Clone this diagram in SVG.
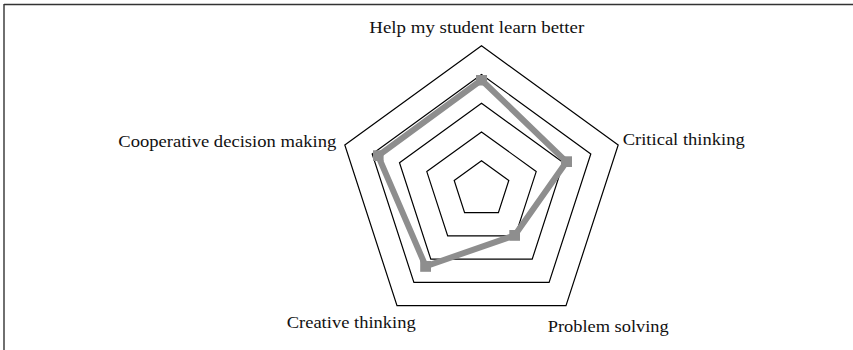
<svg xmlns="http://www.w3.org/2000/svg" width="853" height="350" viewBox="0 0 853 350">
  <style>
    .grid { fill: none; stroke: #000; stroke-width: 1.2; stroke-linejoin: miter; }
    .data { fill: none; stroke: #8e8e8e; stroke-width: 6; stroke-linejoin: miter; }
    .lbl { font-family: "Liberation Serif", "Times New Roman", serif; font-size: 17px; fill: #111; }
    .frame { stroke: #333; stroke-width: 1.4; fill: none; }
  </style>
  <defs>
    <marker id="sq" viewBox="0 0 10 10" refX="5" refY="5" markerWidth="11" markerHeight="11" markerUnits="userSpaceOnUse">
      <rect x="0" y="0" width="10" height="10" fill="#8e8e8e"/>
    </marker>
  </defs>
  <rect width="853" height="350" fill="#fff"/>
  <g id="frame">
    <line class="frame" x1="4" y1="4.5" x2="853" y2="4.5"/>
    <line class="frame" x1="4" y1="4" x2="4" y2="350"/>
  </g>
  <g id="grid">
    <polygon class="grid" points="481.5,45.7 618.2,145.0 566.0,305.7 397.0,305.7 344.8,145.0"/>
    <polygon class="grid" points="481.5,74.4 590.8,153.9 549.1,282.4 413.9,282.4 372.2,153.9"/>
    <polygon class="grid" points="481.5,103.2 563.5,162.8 532.2,259.2 430.8,259.2 399.5,162.8"/>
    <polygon class="grid" points="481.5,131.9 536.2,171.6 515.3,235.9 447.7,235.9 426.8,171.6"/>
    <polygon class="grid" points="481.5,160.7 508.8,180.5 498.4,212.6 464.6,212.6 454.2,180.5"/>
  </g>
  <g id="data">
    <polygon class="data" points="481.5,80.0 566.5,161.8 514.8,235.3 425.7,266.3 378.1,155.8" marker-start="url(#sq)" marker-mid="url(#sq)"/>
  </g>
  <g id="label-help">
    <text class="lbl" x="369.3" y="32.5" textLength="215" lengthAdjust="spacingAndGlyphs">Help my student learn better</text>
  </g>
  <g id="label-critical">
    <text class="lbl" x="622.7" y="144.5" textLength="122" lengthAdjust="spacingAndGlyphs">Critical thinking</text>
  </g>
  <g id="label-problem">
    <text class="lbl" x="547.7" y="331.7" textLength="121" lengthAdjust="spacingAndGlyphs">Problem solving</text>
  </g>
  <g id="label-creative">
    <text class="lbl" x="286.7" y="328.3" textLength="129" lengthAdjust="spacingAndGlyphs">Creative thinking</text>
  </g>
  <g id="label-cooperative">
    <text class="lbl" x="118.3" y="146.7" textLength="218" lengthAdjust="spacingAndGlyphs">Cooperative decision making</text>
  </g>
</svg>
